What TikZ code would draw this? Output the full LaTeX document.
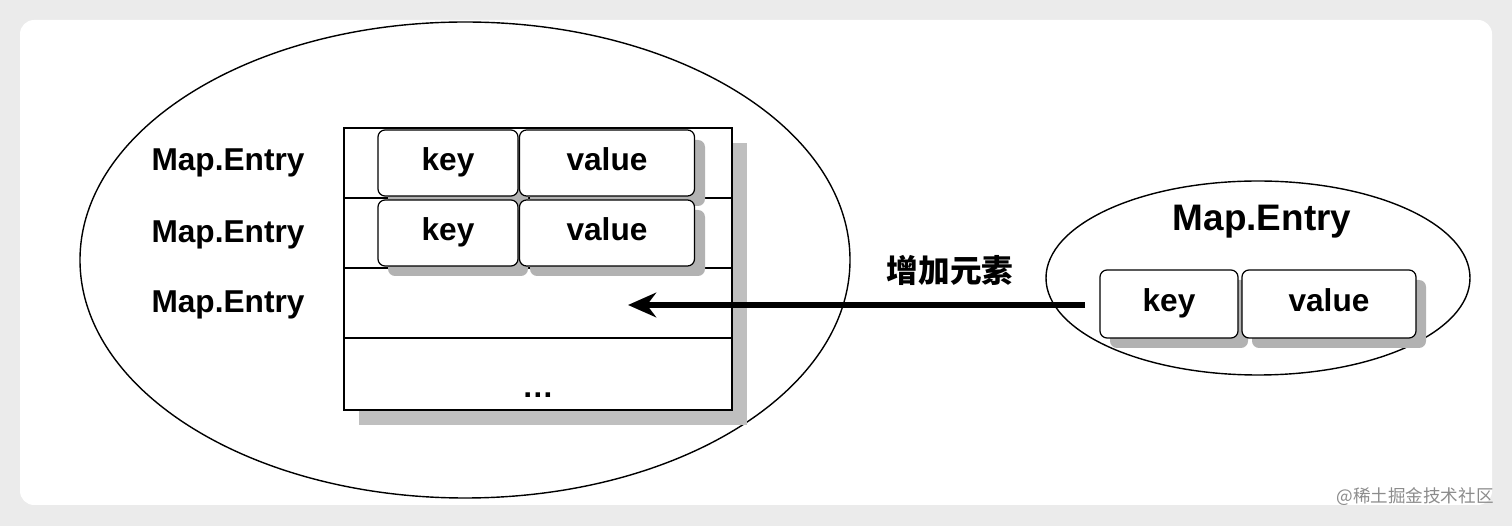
\documentclass[tikz,border=0pt]{standalone}
\usepackage{fontspec}
\setmainfont{Liberation Sans}
\newfontfamily\cjk{Noto Sans CJK SC}
\usetikzlibrary{arrows.meta}
\begin{document}
\begin{tikzpicture}[x=0.02cm,y=-0.02cm,
  lbl/.style={font=\bfseries\fontsize{18}{21}\selectfont,text height=13pt,text depth=4pt},
  cell/.style={draw,rounded corners=4pt,fill=white,line width=0.7pt},
  shad/.style={fill=black!30,rounded corners=4pt}]
\useasboundingbox (0,0) rectangle (1512,526);
\fill[black!8] (0,0) rectangle (1512,526);
\fill[white,rounded corners=8pt] (20,20) rectangle (1492,505);
% big ellipse
\draw[line width=0.8pt] (465,260) ellipse [x radius=385, y radius=238];
% table shadow
\fill[black!25] (359,143) rectangle (747,425);
\node[draw,fill=white,line width=1pt,minimum width=388*0.02cm,minimum height=282*0.02cm,inner sep=0] (tab) at (538,269) {};
\draw[line width=0.8pt] (344,198) -- (732,198) (344,268) -- (732,268) (344,338) -- (732,338);
% key/value cells
\foreach \y/\n in {163/a,233/b}{
  \fill[shad] (388,\y-23) rectangle (528,\y+43);
  \fill[shad] (530,\y-23) rectangle (705,\y+43);
  \node[cell,minimum width=140*0.02cm,minimum height=66*0.02cm,lbl] (k\n) at (448,\y) {key};
  \node[cell,minimum width=175*0.02cm,minimum height=66*0.02cm,lbl] (v\n) at (607,\y) {value};
}
\node[lbl] (m1) at (228,163) {Map.Entry};
\node[lbl] (m2) at (228,235) {Map.Entry};
\node[lbl] (m3) at (228,305) {Map.Entry};
\node[lbl] (dots) at (538,390) {\ldots};
\coordinate (tgt) at (628,305);
\coordinate (src) at (1085,305);
% small ellipse
\draw[line width=0.8pt] (1258,278) ellipse [x radius=212, y radius=97];
\node[font=\bfseries\fontsize{21}{24}\selectfont] (m4) at (1262,222) {Map.Entry};
\fill[shad] (1110,280) rectangle (1248,348);
\fill[shad] (1252,280) rectangle (1426,348);
\node[cell,minimum width=138*0.02cm,minimum height=68*0.02cm,lbl] (k3) at (1169,304) {key};
\node[cell,minimum width=174*0.02cm,minimum height=68*0.02cm,lbl] (v3) at (1329,304) {value};
% arrow
\draw[line width=3pt,-{Stealth[length=16pt,width=14pt]}] (src) -- (tgt);
\node[font=\cjk\bfseries\fontsize{18}{21}\selectfont] (add) at (950,270) {增加元素};
\node[font=\cjk\fontsize{10}{12}\selectfont,text=black!45] (wm) at (1415,497) {@稀土掘金技术社区};
\end{tikzpicture}
\end{document}
